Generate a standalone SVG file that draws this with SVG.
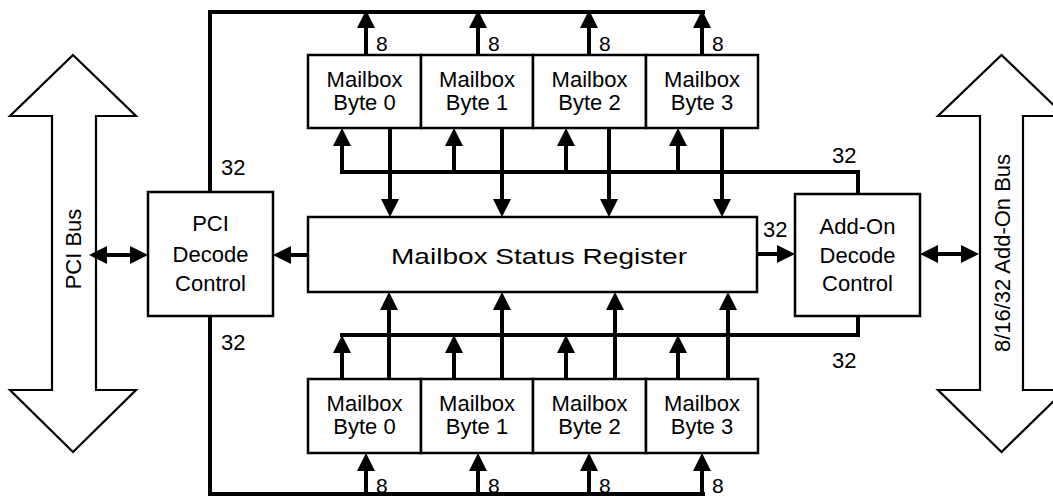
<svg xmlns="http://www.w3.org/2000/svg" width="1053" height="496" viewBox="0 0 1053 496">
<defs>
<style>
.box{fill:#fff;stroke:#000;stroke-width:2.5}
.bus{fill:#fff;stroke:#000;stroke-width:2.2;stroke-linejoin:miter}
.w{fill:none;stroke:#000;stroke-width:4;stroke-linejoin:miter}
.t{font-family:"Liberation Sans",Arial,sans-serif;font-size:22px;fill:#000;text-anchor:middle}
.n{font-family:"Liberation Sans",Arial,sans-serif;font-size:22px;fill:#000}
.e{font-family:"Liberation Sans",Arial,sans-serif;font-size:21px;fill:#000}
</style>
<marker id="ah" viewBox="0 0 18 18" refX="10" refY="9" markerWidth="18" markerHeight="18" markerUnits="userSpaceOnUse" orient="auto-start-reverse">
<path d="M0,0 L18,9 L0,18 z" fill="#000"/>
</marker>
</defs>

<g id="pci-bus">
<polygon class="bus" points="73,55 136,116 96,116 96,390 136,390 73,452 10,390 52,390 52,116 10,116"/>
<text class="t" font-size="22" transform="translate(81,249) rotate(-90)">PCI Bus</text>
</g>
<g id="addon-bus">
<polygon class="bus" points="1001.5,55 1065,116 1023,116 1023,390 1065,390 1001.5,452 938,390 980,390 980,116 938,116"/>
<text class="t" font-size="22" transform="translate(1010,253) rotate(-90)">8/16/32 Add-On Bus</text>
</g>

<g id="connectors">
<polyline class="w" points="210,192 210,12 705,12"/>
<polyline class="w" points="210,316 210,494 705,494"/>
<line class="w" x1="366" y1="55" x2="366" y2="18" marker-end="url(#ah)"/>
<line class="w" x1="478" y1="55" x2="478" y2="18" marker-end="url(#ah)"/>
<line class="w" x1="589" y1="55" x2="589" y2="18" marker-end="url(#ah)"/>
<line class="w" x1="702" y1="55" x2="702" y2="18" marker-end="url(#ah)"/>
<line class="w" x1="366" y1="494" x2="366" y2="461" marker-end="url(#ah)"/>
<line class="w" x1="478" y1="494" x2="478" y2="461" marker-end="url(#ah)"/>
<line class="w" x1="589" y1="494" x2="589" y2="461" marker-end="url(#ah)"/>
<line class="w" x1="702" y1="494" x2="702" y2="461" marker-end="url(#ah)"/>
<polyline class="w" points="858,193 858,172 340,172"/>
<line class="w" x1="342" y1="172" x2="342" y2="136" marker-end="url(#ah)"/>
<line class="w" x1="454" y1="172" x2="454" y2="136" marker-end="url(#ah)"/>
<line class="w" x1="566" y1="172" x2="566" y2="136" marker-end="url(#ah)"/>
<line class="w" x1="678" y1="172" x2="678" y2="136" marker-end="url(#ah)"/>
<line class="w" x1="390" y1="128" x2="390" y2="209" marker-end="url(#ah)"/>
<line class="w" x1="502" y1="128" x2="502" y2="209" marker-end="url(#ah)"/>
<line class="w" x1="609" y1="128" x2="609" y2="209" marker-end="url(#ah)"/>
<line class="w" x1="722" y1="128" x2="722" y2="209" marker-end="url(#ah)"/>
<polyline class="w" points="858,316 858,335 340,335"/>
<line class="w" x1="342" y1="379" x2="342" y2="343" marker-end="url(#ah)"/>
<line class="w" x1="454" y1="379" x2="454" y2="343" marker-end="url(#ah)"/>
<line class="w" x1="566" y1="379" x2="566" y2="343" marker-end="url(#ah)"/>
<line class="w" x1="678" y1="379" x2="678" y2="343" marker-end="url(#ah)"/>
<line class="w" x1="389" y1="379" x2="389" y2="300" marker-end="url(#ah)"/>
<line class="w" x1="502" y1="379" x2="502" y2="300" marker-end="url(#ah)"/>
<line class="w" x1="615" y1="379" x2="615" y2="300" marker-end="url(#ah)"/>
<line class="w" x1="728" y1="379" x2="728" y2="300" marker-end="url(#ah)"/>
<line class="w" x1="308" y1="255" x2="281" y2="255" marker-end="url(#ah)"/>
<line class="w" x1="757" y1="254" x2="787" y2="254" marker-end="url(#ah)"/>
<line class="w" x1="97" y1="255" x2="140" y2="255" marker-start="url(#ah)" marker-end="url(#ah)"/>
<line class="w" x1="928" y1="254" x2="971" y2="254" marker-start="url(#ah)" marker-end="url(#ah)"/>
<text class="n" x="221" y="175">32</text>
<text class="n" x="221" y="350">32</text>
<text class="n" x="832" y="163">32</text>
<text class="n" x="763" y="237">32</text>
<text class="n" x="832" y="368">32</text>
<text class="e" x="376" y="51">8</text>
<text class="e" x="488" y="51">8</text>
<text class="e" x="599" y="51">8</text>
<text class="e" x="712" y="51">8</text>
<text class="e" x="376" y="493">8</text>
<text class="e" x="488" y="493">8</text>
<text class="e" x="599" y="493">8</text>
<text class="e" x="712" y="493">8</text>
</g>

<g id="pci-decode">
<rect class="box" x="148" y="192" width="125" height="124"/>
<text class="t" x="210.5" y="231">PCI</text>
<text class="t" x="210.5" y="262">Decode</text>
<text class="t" x="210.5" y="291">Control</text>
</g>
<g id="addon-decode">
<rect class="box" x="795" y="194" width="125" height="122"/>
<text class="t" x="857.5" y="234">Add-On</text>
<text class="t" x="857.5" y="263">Decode</text>
<text class="t" x="857.5" y="291">Control</text>
</g>
<g id="status-register">
<rect class="box" x="308" y="217" width="449" height="75"/>
<text class="t" x="539" y="264" font-size="25" textLength="296" lengthAdjust="spacingAndGlyphs">Mailbox Status Register</text>
</g>

<g id="top-mailbox-0"><rect class="box" x="308" y="55" width="113" height="73"/><text class="t" x="364.5" y="87">Mailbox</text><text class="t" x="364.5" y="110">Byte 0</text></g>
<g id="top-mailbox-1"><rect class="box" x="421" y="55" width="112" height="73"/><text class="t" x="477" y="87">Mailbox</text><text class="t" x="477" y="110">Byte 1</text></g>
<g id="top-mailbox-2"><rect class="box" x="533" y="55" width="113" height="73"/><text class="t" x="589.5" y="87">Mailbox</text><text class="t" x="589.5" y="110">Byte 2</text></g>
<g id="top-mailbox-3"><rect class="box" x="646" y="55" width="112" height="73"/><text class="t" x="702" y="87">Mailbox</text><text class="t" x="702" y="110">Byte 3</text></g>

<g id="bottom-mailbox-0"><rect class="box" x="308" y="379" width="113" height="74"/><text class="t" x="364.5" y="411">Mailbox</text><text class="t" x="364.5" y="434">Byte 0</text></g>
<g id="bottom-mailbox-1"><rect class="box" x="421" y="379" width="112" height="74"/><text class="t" x="477" y="411">Mailbox</text><text class="t" x="477" y="434">Byte 1</text></g>
<g id="bottom-mailbox-2"><rect class="box" x="533" y="379" width="113" height="74"/><text class="t" x="589.5" y="411">Mailbox</text><text class="t" x="589.5" y="434">Byte 2</text></g>
<g id="bottom-mailbox-3"><rect class="box" x="646" y="379" width="112" height="74"/><text class="t" x="702" y="411">Mailbox</text><text class="t" x="702" y="434">Byte 3</text></g>
</svg>
